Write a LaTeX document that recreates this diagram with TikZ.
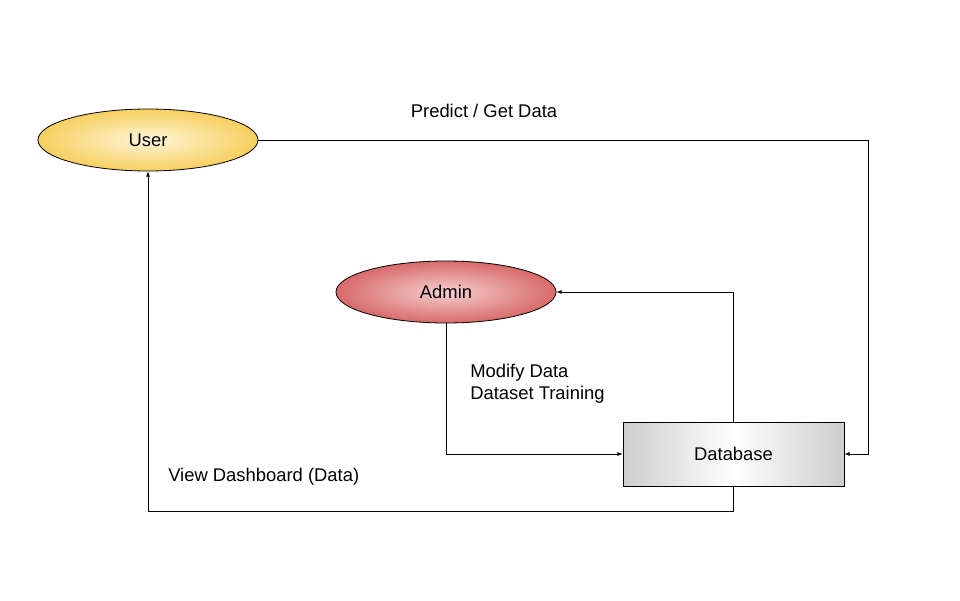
\documentclass[tikz,border=0pt]{standalone}
\usepackage{fontspec}
\setmainfont{Liberation Sans}
\usetikzlibrary{shapes.geometric,arrows.meta}
\definecolor{usergold}{HTML}{F7CF5E}
\definecolor{userlight}{HTML}{FFF6DA}
\definecolor{adminred}{HTML}{D86A6A}
\definecolor{adminlight}{HTML}{F6CFCF}
\definecolor{dbgray}{HTML}{9C9C9C}
\pgfdeclarehorizontalshading{dbshade}{100bp}{color(0bp)=(dbgray); color(50bp)=(white); color(100bp)=(dbgray)}
\begin{document}
\begin{tikzpicture}[x=0.75pt,y=-0.75pt,>={Latex[length=4pt,width=3pt]},
    every node/.style={font=\fontsize{13.8}{16}\selectfont},
    actor/.style={ellipse,draw,line width=0.6pt,minimum width=165pt,minimum height=46.5pt,inner sep=0pt},
    store/.style={rectangle,draw,line width=0.6pt,minimum width=165.75pt,minimum height=48pt},
    note/.style={anchor=west,inner sep=0pt},
    flow/.style={->,line width=0.5pt}]
    \useasboundingbox (0,0) rectangle (960,600);
    % entities
    \node[actor,inner color=userlight,outer color=usergold] (user) at (148,140) {User};
    \node[actor,inner color=adminlight,outer color=adminred] (admin) at (446,292) {Admin};
    \node[store,shading=dbshade] (db) at (733.5,454) {Database};
    % bends
    \coordinate (ucorner) at (868,140);
    \coordinate (dcorner) at (733.5,511);
    % flows
    \draw[flow] (user.east) -- (ucorner) |- (db.east);
    \draw[flow] (admin.south) |- (db.west);
    \draw[flow] (db.north) |- (admin.east);
    \draw[flow] (db.south) -- (dcorner) -| (user.south);
    % labels
    \node (predict) at (484,110.5) {Predict / Get Data};
    \node[note] (modify) at (470,372.5) {Modify Data};
    \node[note] (training) at (470,394.5) {Dataset Training};
    \node[note] (view) at (168,476.5) {View Dashboard (Data)};
\end{tikzpicture}
\end{document}
